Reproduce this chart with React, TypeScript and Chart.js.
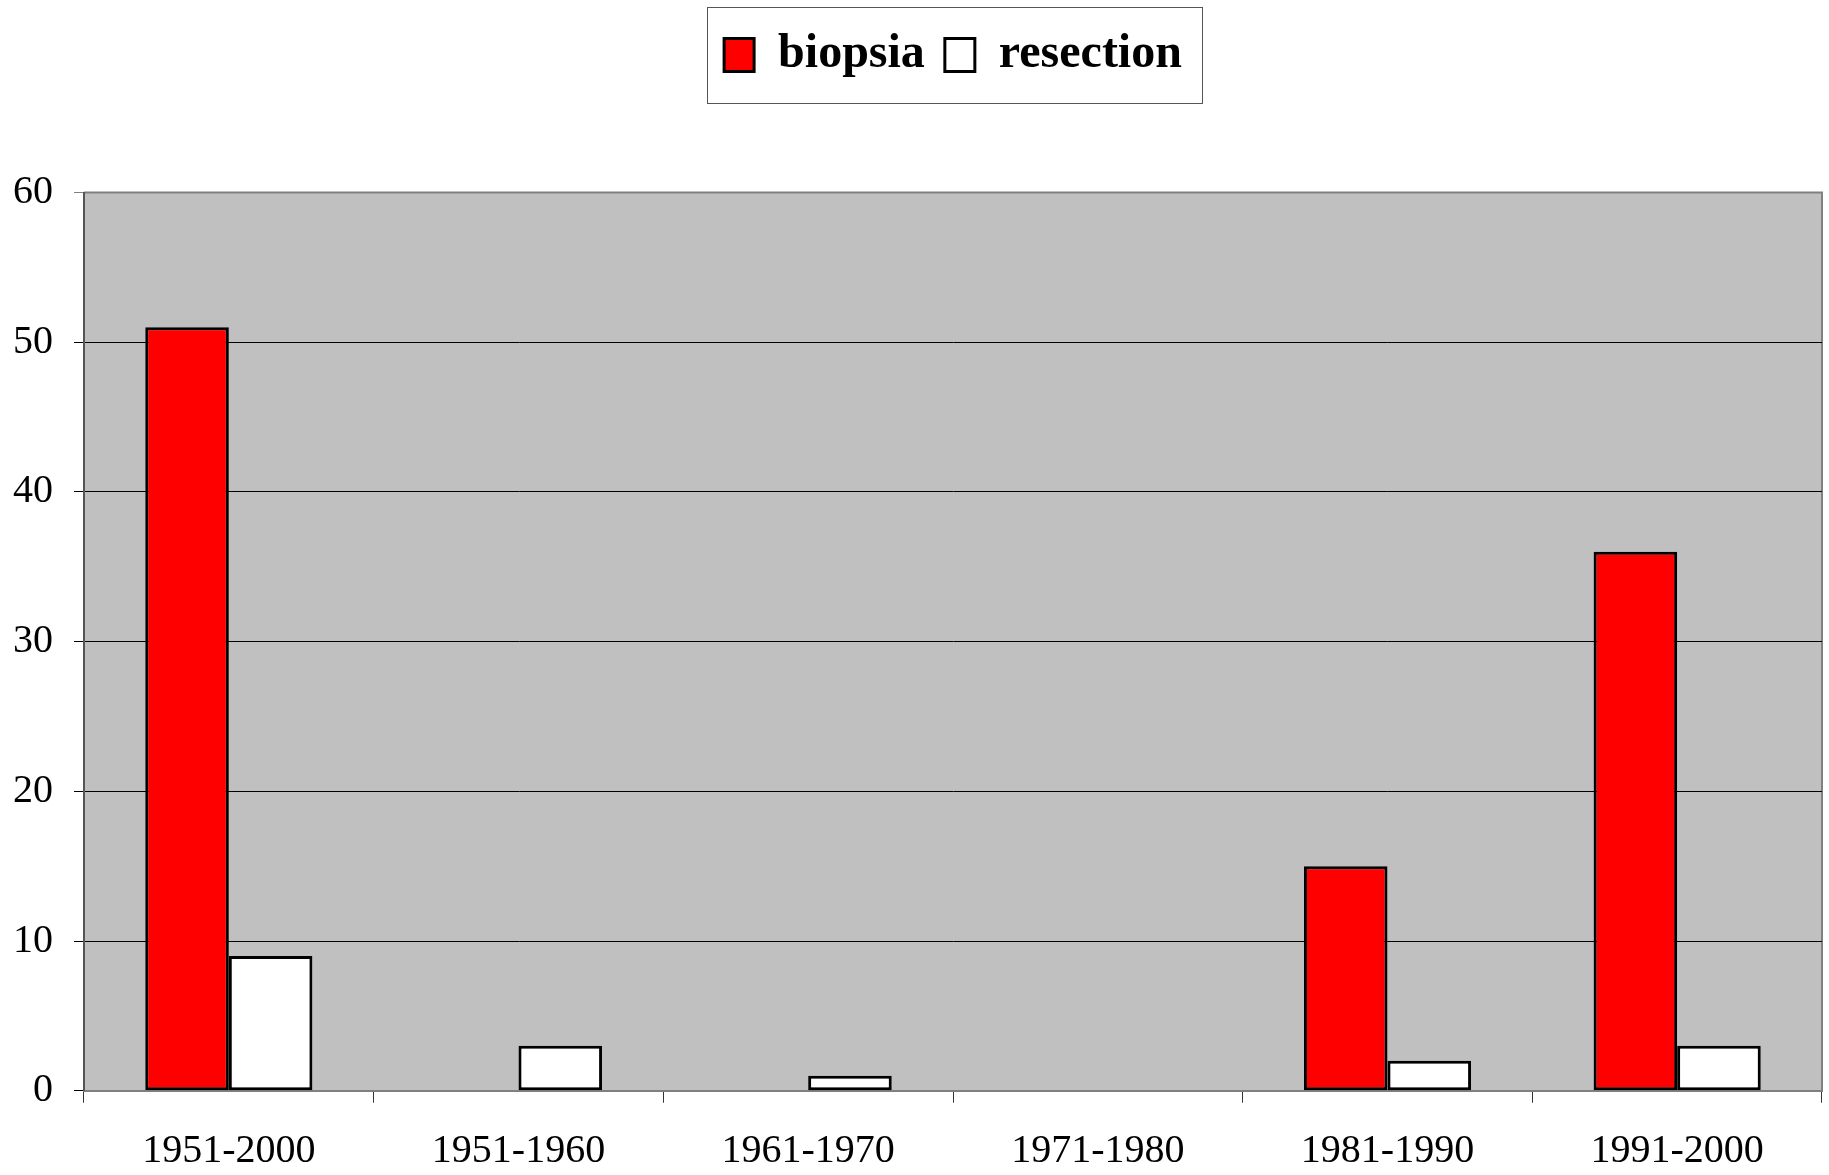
import React, { useEffect, useRef } from "react";
import { Chart, registerables } from "chart.js";

Chart.register(...registerables);

const categories = ["1951-2000", "1951-1960", "1961-1970", "1971-1980", "1981-1990", "1991-2000"];
const biopsia = [51, null, null, null, 15, 36];
const resection = [9, 3, 1, null, 2, 3];
const yTicks = [0, 10, 20, 30, 40, 50, 60];

const FONT = "'Liberation Serif', 'Times New Roman', serif";

const bgPlugin = {
  id: "plotBg",
  beforeLayout(chart: any) {
    const lg = chart.legend;
    if (lg && !lg.__patched) {
      const orig = lg.fit;
      lg.fit = function () {
        orig.call(this);
        this.height += 103.5;
      };
      lg.__patched = true;
    }
  },
  beforeDraw(chart: any) {
    const { ctx, chartArea: a } = chart;
    ctx.save();
    ctx.fillStyle = "#ffffff";
    ctx.fillRect(0, 0, chart.width, chart.height);
    ctx.fillStyle = "#C0C0C0";
    ctx.fillRect(a.left, a.top, a.right - a.left, a.bottom - a.top);
    ctx.strokeStyle = "#808080";
    ctx.lineWidth = 2;
    ctx.beginPath();
    ctx.moveTo(a.left, a.top);
    ctx.lineTo(a.right, a.top);
    ctx.lineTo(a.right, a.bottom);
    ctx.stroke();
    ctx.restore();
  },
  afterDraw(chart: any) {
    const lg = chart.legend;
    if (!lg || !lg.legendHitBoxes || !lg.legendHitBoxes.length) return;
    const hb = lg.legendHitBoxes;
    const first = hb[0];
    const last = hb[hb.length - 1];
    const left = first.left - 17;
    const right = last.left + last.width + 20;
    const top = first.top - 24;
    const bottom = first.top + first.height + 24;
    const { ctx } = chart;
    ctx.save();
    ctx.strokeStyle = "#555555";
    ctx.lineWidth = 1;
    ctx.strokeRect(Math.round(left) + 0.5, Math.round(top) + 0.5, Math.round(right - left), Math.round(bottom - top));
    ctx.restore();
  },
};

export default function App() {
  const ref = useRef<HTMLCanvasElement | null>(null);

  useEffect(() => {
    if (!ref.current) return;
    const chart = new Chart(ref.current, {
      type: "bar",
      data: {
        labels: categories,
        datasets: [
          {
            label: "biopsia",
            data: biopsia as any,
            backgroundColor: "#FF0000",
            borderColor: "#000000",
            borderWidth: 3,
            borderSkipped: false,
          },
          {
            label: "resection",
            data: resection as any,
            backgroundColor: "#FFFFFF",
            borderColor: "#000000",
            borderWidth: 3,
            borderSkipped: false,
          },
        ],
      },
      options: {
        responsive: false,
        animation: false,
        devicePixelRatio: 1,
        layout: { padding: { top: 11, right: 7, left: 0, bottom: 0 } },
        datasets: {
          bar: { categoryPercentage: 0.577, barPercentage: 1.0 },
        },
        plugins: {
          legend: {
            display: true,
            position: "top",
            fullSize: false,
            labels: {
              boxWidth: 30,
              boxHeight: 33,
              padding: 20,
              color: "#000000",
              font: { family: FONT, size: 48, weight: "bold" },
            },
          },
          tooltip: { enabled: false },
        },
        scales: {
          x: {
            afterFit(scale: any) {
              scale.height = 84.3;
            },
            grid: {
              offset: true,
              drawOnChartArea: false,
              drawTicks: true,
              tickLength: 12,
              color: "#333333",
              lineWidth: 1,
            },
            border: { display: true, color: "#808080", width: 2 },
            ticks: {
              color: "#000000",
              font: { family: FONT, size: 40 },
              padding: 25,
              maxRotation: 0,
              autoSkip: false,
            },
          },
          y: {
            min: 0,
            max: 60,
            afterFit(scale: any) {
              scale.width = 84;
            },
            afterBuildTicks(scale: any) {
              scale.ticks = yTicks.map((v) => ({ value: v }));
            },
            grid: {
              color: (c: any) => (c.tick && c.tick.value === 60 ? "#808080" : "#000000"),
              lineWidth: 1,
              tickLength: 10,
              drawTicks: true,
            },
            border: { display: true, color: "#555555", width: 2 },
            ticks: {
              color: "#000000",
              font: { family: FONT, size: 40 },
              padding: 21,
            },
          },
        },
      },
      plugins: [bgPlugin],
    } as any);
    return () => chart.destroy();
  }, []);

  return (
    <div style={{ position: "absolute", left: 0, top: 0, width: 1829, height: 1175, background: "#fff" }}>
      <canvas ref={ref} width={1829} height={1175} style={{ display: "block" }} />
    </div>
  );
}
